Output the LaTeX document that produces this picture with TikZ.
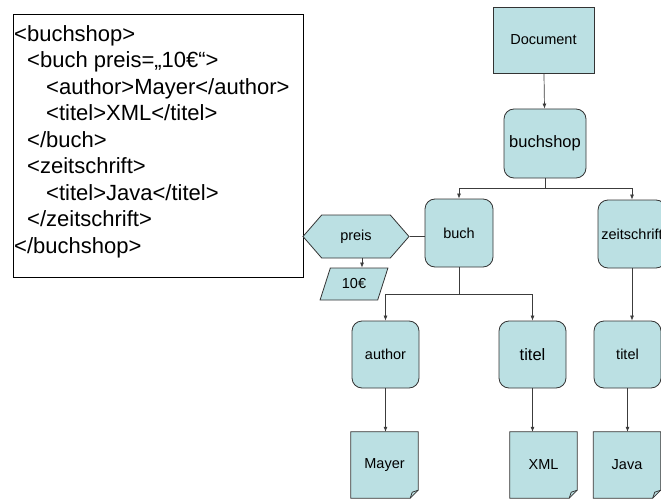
\documentclass[tikz,border=0pt]{standalone}
\usepackage{fontspec}
\setmainfont{Liberation Sans}
\usetikzlibrary{arrows.meta,shapes.geometric,shapes.symbols,backgrounds}
\definecolor{boxfill}{RGB}{187,224,227}
\definecolor{edgegray}{RGB}{51,51,51}
\definecolor{linegray}{RGB}{60,60,60}
\begin{document}
\begin{tikzpicture}[x=1pt,y=-1pt,
  every node/.style={font=\fontsize{14.5}{17}\selectfont},
  elem/.style={draw=edgegray,fill=boxfill,line width=0.8pt,rounded corners=10pt,
    minimum width=67pt,minimum height=67pt,inner sep=0pt},
  docnode/.style={minimum width=67pt,minimum height=66pt,inner sep=0pt},
  conn/.style={draw=linegray,line width=0.7pt,-{Latex[length=5pt,width=4pt]}},
  wire/.style={draw=linegray,line width=0.7pt}]
\useasboundingbox (0,0) rectangle (661,500);
\node[draw,line width=0.8pt,minimum width=290pt,minimum height=263pt,anchor=north west,inner sep=0pt] (xmlbox) at (13,14) {};
\node[anchor=north west,inner sep=0pt,align=left,font=\fontsize{22}{26.5}\selectfont] (xmltext) at (14,25) {%
<buchshop>\\
\hspace*{13pt}<buch preis=„10€“>\\
\hspace*{32pt}<author>Mayer</author>\\
\hspace*{32pt}<titel>XML</titel>\\
\hspace*{13pt}</buch>\\
\hspace*{13pt}<zeitschrift>\\
\hspace*{32pt}<titel>Java</titel>\\
\hspace*{13pt}</zeitschrift>\\
</buchshop>};
\node[draw=edgegray,fill=boxfill,line width=0.8pt,minimum width=101pt,minimum height=66pt,inner sep=0pt] (doc) at (543.5,40) {Document};
\node[elem,minimum width=82pt,minimum height=69pt,font=\fontsize{16.5}{19}\selectfont] (buchshop) at (545,143.5) {buchshop};
\node[elem,minimum width=68pt,minimum height=68pt] (buch) at (459,233) {buch};
\node[elem,minimum width=68pt,minimum height=68pt] (zeit) at (632,234) {zeitschrift};
\node[signal,signal to=west and east,signal pointer angle=98,draw=edgegray,fill=boxfill,line width=0.8pt,
  minimum width=106pt,minimum height=43pt,inner sep=0pt] (preis) at (356,236.5) {preis};
\node[trapezium,trapezium left angle=63,trapezium right angle=117,trapezium stretches=true,draw=edgegray,
  fill=boxfill,line width=0.8pt,minimum width=68pt,minimum height=32pt,inner sep=0pt] (euro) at (354,284) {10€};
\node[elem] (author) at (385.5,354.5) {author};
\node[elem,font=\fontsize{16.5}{19}\selectfont] (titelA) at (532.5,354.5) {titel};
\node[elem] (titelB) at (627.5,354.5) {titel};
\node[docnode] (mayer) at (384.5,465) {Mayer};
\node[docnode] (xml) at (543.5,465) {XML};
\node[docnode] (java) at (627,465) {Java};
\begin{scope}[on background layer]
\foreach \d in {mayer,xml,java} {
  \filldraw[draw=edgegray,fill=boxfill,line width=0.8pt] (\d.north west) -- (\d.north east)
    -- ([yshift=8pt]\d.south east) -- ([xshift=-8pt]\d.south east) -- (\d.south west) -- cycle;
  \draw[draw=edgegray,line width=0.8pt] ([xshift=-8pt]\d.south east) -- ([xshift=-6pt,yshift=6pt]\d.south east)
    -- ([yshift=8pt]\d.south east);
}
\end{scope}
\coordinate (forkA) at (545,188);
\coordinate (forkB) at (459,294);
\draw[conn] (doc) -- (buchshop);
\draw[wire] (buchshop.south) -- (forkA);
\draw[conn] (forkA) -| (buch.north);
\draw[conn] (forkA) -| (zeit.north);
\draw[wire] (preis.east) -- (buch.west |- preis.east);
\draw[conn] ([xshift=6pt]preis.south) -- ([xshift=6pt]preis.south |- euro.north);
\draw[wire] (buch.south) -- (forkB);
\draw[conn] (forkB) -| (author.north);
\draw[conn] (forkB) -| (titelA.north);
\draw[conn] (zeit.south) -- (zeit.south |- titelB.north);
\draw[conn] (author.south) -- (author.south |- mayer.north);
\draw[conn] (titelA.south) -- (titelA.south |- xml.north);
\draw[conn] (titelB.south) -- (titelB.south |- java.north);
\end{tikzpicture}
\end{document}
